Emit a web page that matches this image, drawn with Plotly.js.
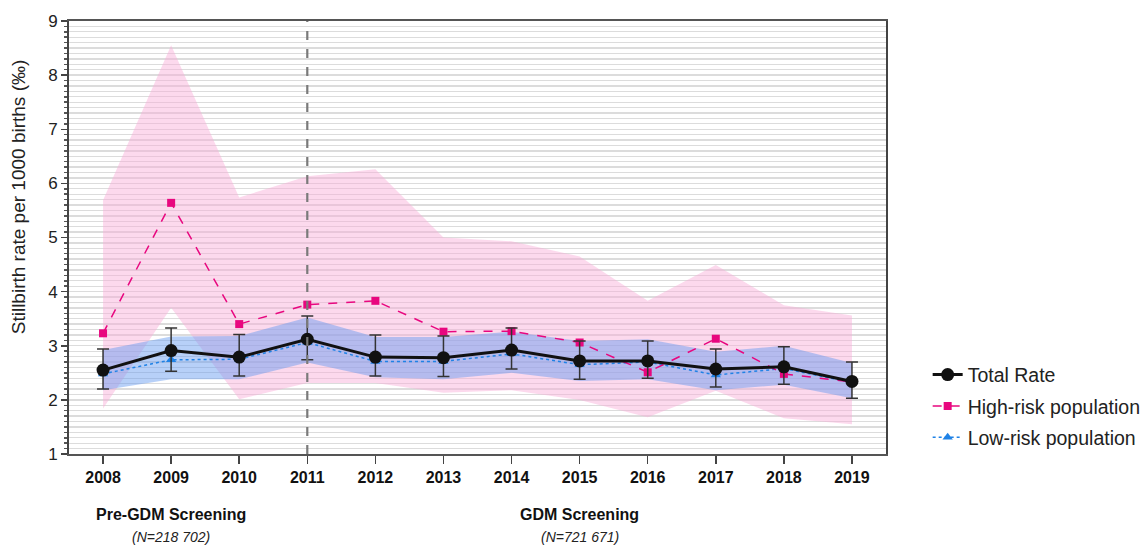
<!DOCTYPE html>
<html>
<head>
<meta charset="utf-8">
<script src="https://cdn.plot.ly/plotly-3.0.1.min.js"></script>
<style>html,body{margin:0;padding:0;background:#fff;}#chart{width:1142px;height:552px;}</style>
</head>
<body>
<div id="chart"></div>
<script>
var years = [2008, 2009, 2010, 2011, 2012, 2013, 2014, 2015, 2016, 2017, 2018, 2019];

var totalRate  = [2.55, 2.91, 2.79, 3.12, 2.79, 2.78, 2.92, 2.72, 2.72, 2.57, 2.61, 2.34];
var totalUpper = [2.94, 3.33, 3.21, 3.55, 3.20, 3.18, 3.33, 3.09, 3.09, 2.94, 2.98, 2.70];
var totalLower = [2.20, 2.53, 2.44, 2.74, 2.44, 2.43, 2.57, 2.38, 2.40, 2.24, 2.29, 2.03];

var highRisk      = [3.23, 5.64, 3.40, 3.76, 3.83, 3.26, 3.27, 3.06, 2.51, 3.13, 2.48, 2.33];
var highRiskUpper = [5.69, 8.55, 5.74, 6.13, 6.26, 5.00, 4.93, 4.65, 3.83, 4.49, 3.75, 3.56];
var highRiskLower = [1.84, 3.70, 2.01, 2.31, 2.31, 2.13, 2.18, 2.00, 1.68, 2.17, 1.66, 1.55];

var lowRisk      = [2.48, 2.74, 2.75, 3.06, 2.71, 2.71, 2.85, 2.65, 2.70, 2.46, 2.58, 2.32];
var lowRiskUpper = [2.92, 3.17, 3.18, 3.52, 3.16, 3.16, 3.26, 3.09, 3.12, 2.89, 3.00, 2.68];
var lowRiskLower = [2.18, 2.38, 2.38, 2.69, 2.42, 2.38, 2.50, 2.35, 2.38, 2.18, 2.28, 2.03];

var seriesNames = ["Total Rate", "High-risk population", "Low-risk population"];
var yTitle = "Stillbirth rate per 1000 births (\u2030)";
var periodLabels = ["Pre-GDM Screening", "GDM Screening"];
var periodN = ["(N=218 702)", "(N=721 671)"];
var periodCenters = [2009, 2015];
var screeningStart = 2011;

var FONT = "Arial, 'Liberation Sans', sans-serif";
var pink = "#e8077f";
var blue = "#1f82e6";

function errPlus(v, u) { return v.map(function (x, i) { return u[i] - x; }); }
function errMinus(v, l) { return v.map(function (x, i) { return x - l[i]; }); }

var traces = [
  {x: years, y: highRiskLower, type: "scatter", mode: "lines", line: {width: 0}, showlegend: false, hoverinfo: "skip"},
  {x: years, y: highRiskUpper, type: "scatter", mode: "lines", line: {width: 0}, fill: "tonexty",
   fillcolor: "rgba(248,170,215,0.45)", showlegend: false, hoverinfo: "skip"},
  {x: years, y: lowRiskLower, type: "scatter", mode: "lines", line: {width: 0}, showlegend: false, hoverinfo: "skip"},
  {x: years, y: lowRiskUpper, type: "scatter", mode: "lines", line: {width: 0}, fill: "tonexty",
   fillcolor: "rgba(95,150,240,0.45)", showlegend: false, hoverinfo: "skip"},
  {x: years, y: lowRisk, name: seriesNames[2], legendgroup: "c", legendrank: 3, type: "scatter", mode: "lines+markers",
   line: {color: blue, width: 1.5, dash: "dot"}, marker: {symbol: "triangle-up", size: 9, color: blue}},
  {x: years, y: highRisk, name: seriesNames[1], legendgroup: "b", legendrank: 2, type: "scatter", mode: "lines+markers",
   line: {color: pink, width: 1.5, dash: "dash"}, marker: {symbol: "square", size: 8, color: pink}},
  {x: years, y: totalRate, name: seriesNames[0], legendgroup: "a", legendrank: 1, type: "scatter", mode: "lines+markers",
   line: {color: "#111", width: 3}, marker: {symbol: "circle", size: 13, color: "#111"},
   error_y: {type: "data", symmetric: false, array: errPlus(totalRate, totalUpper),
             arrayminus: errMinus(totalRate, totalLower), color: "#333", thickness: 1.5, width: 6}}
];

var layout = {
  width: 1142, height: 552,
  margin: {l: 69, r: 256, t: 21, b: 98, autoexpand: false},
  paper_bgcolor: "#fff", plot_bgcolor: "#fff",
  font: {family: FONT, color: "#222"},
  showlegend: true,
  legend: {x: 1.051, y: 0.11, xanchor: "left", yanchor: "middle", traceorder: "grouped",
           tracegroupgap: 3,
           font: {size: 19.5, family: FONT, color: "#222"}, bgcolor: "rgba(0,0,0,0)", itemwidth: 30},
  xaxis: {
    range: [2007.5, 2019.5], tickvals: years, ticktext: years.map(String),
    ticks: "outside", ticklen: 8, tickwidth: 1.5, tickcolor: "#444",
    showline: true, linecolor: "#555", linewidth: 2, mirror: true,
    showgrid: false, zeroline: false,
    tickfont: {size: 16, family: FONT, color: "#111", weight: "bold"}
  },
  yaxis: {
    range: [1, 9], tickvals: [1, 2, 3, 4, 5, 6, 7, 8, 9],
    ticks: "outside", ticklen: 6, tickwidth: 1.5, tickcolor: "#444",
    showline: true, linecolor: "#444", linewidth: 2, mirror: true,
    showgrid: true, gridcolor: "#dcdcdc", gridwidth: 1.3,
    zeroline: false,
    minor: {dtick: 0.1, ticks: "outside", ticklen: 3, tickcolor: "#555", showgrid: true, gridcolor: "#dcdcdc", gridwidth: 1.3},
    tickfont: {size: 17, family: FONT, color: "#222"}
  },
  shapes: [
    {type: "line", xref: "x", yref: "paper", x0: screeningStart, x1: screeningStart, y0: 0, y1: 1,
     line: {color: "#7a7a7a", width: 2.2, dash: "dash"}}
  ],
  annotations: [
    {xref: "paper", yref: "paper", x: -0.0624, y: 0.593, text: yTitle, textangle: -90,
     showarrow: false, xanchor: "center", yanchor: "middle",
     font: {size: 19, family: FONT, color: "#222"}},
    {xref: "x", yref: "paper", x: periodCenters[0], y: -0.164, text: "<b>" + periodLabels[0] + "</b>",
     showarrow: false, font: {size: 16, family: FONT, color: "#111"}},
    {xref: "x", yref: "paper", x: periodCenters[0], y: -0.214, text: "<i>" + periodN[0] + "</i>",
     showarrow: false, font: {size: 14, family: FONT, color: "#222"}},
    {xref: "x", yref: "paper", x: periodCenters[1], y: -0.164, text: "<b>" + periodLabels[1] + "</b>",
     showarrow: false, font: {size: 16, family: FONT, color: "#111"}},
    {xref: "x", yref: "paper", x: periodCenters[1], y: -0.214, text: "<i>" + periodN[1] + "</i>",
     showarrow: false, font: {size: 14, family: FONT, color: "#222"}}
  ]
};

Plotly.newPlot("chart", traces, layout, {displayModeBar: false, staticPlot: true});
</script>
</body>
</html>
